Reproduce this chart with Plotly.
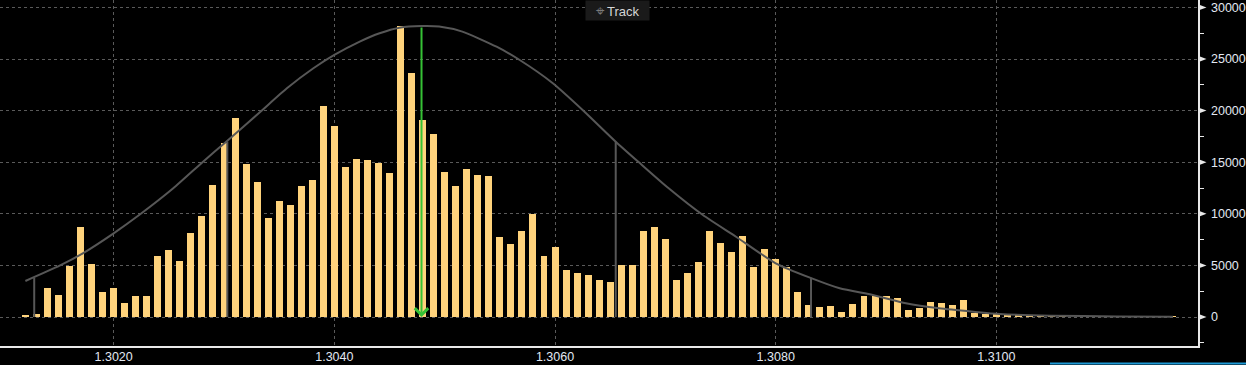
import plotly.graph_objects as go

# ---------------- data ----------------
bin_start = 1.3012
bin_step = 0.0001
counts = [
    150, 300, 2810, 2130, 4980, 8720, 5140, 2420, 2810, 1360,      # 1.3012-1.3021
    2070, 2070, 5910, 6490, 5430, 8140, 9790, 12790, 16830, 19280,  # 1.3022-1.3031
    14830, 13080, 9590, 11240, 10850, 12690, 13280, 20450, 18510, 14540,  # 1.3032-1.3041
    15310, 15210, 14920, 13950, 28200, 23640, 19090, 17730, 14050, 12690,  # 1.3042-1.3051
    14340, 13760, 13660, 7750, 7070, 8330, 9980, 5910, 6780, 4550,  # 1.3052-1.3061
    4260, 4070, 3590, 3390, 5040, 5040, 8330, 8720, 7560, 3590,     # 1.3062-1.3071
    4260, 5330, 8330, 7170, 6300, 7850, 4850, 6590, 5620, 4850,     # 1.3072-1.3081
    2420, 1160, 970, 1070, 490, 1260, 2040, 2040, 2040, 1840,       # 1.3082-1.3091
    680, 870, 1450, 1360, 1160, 1650, 420, 320, 260, 160,           # 1.3092-1.3101
    160, 130, 100, 100, 60, 40, 0, 0, 0, 0,                         # 1.3102-1.3111
    0, 0, 0, 0, 60,                                                 # 1.3112-1.3116
]
bin_centers = [round(bin_start + i * bin_step, 4) for i in range(len(counts))]

# fitted normal curve
curve_x = [1.30120, 1.30151, 1.30172, 1.30200, 1.30224, 1.30254, 1.30280, 1.30302,
           1.30333, 1.30357, 1.30381, 1.30400, 1.30423, 1.30441, 1.30459, 1.30479,
           1.30495, 1.30516, 1.30547, 1.30568, 1.30598, 1.30625, 1.30655, 1.30676,
           1.30703, 1.30734, 1.30764, 1.30800, 1.30831, 1.30858, 1.30888, 1.30918,
           1.30948, 1.30979, 1.31003, 1.31049, 1.31109, 1.31160]
curve_y = [3490, 4970, 6170, 8110, 9950, 12470, 14950, 16990,
           19890, 22160, 24100, 25390, 26680, 27490, 28030, 28200,
           28150, 27650, 26190, 24900, 22650, 20060, 16990, 14990,
           12470, 9880, 7780, 5200, 3810, 2780, 2130, 1330,
           840, 510, 290, 130, 60, 30]

# +-1 / +-2 sigma markers
sigma_x = [1.30128, 1.30303, 1.30655, 1.30832]
sigma_top = [3780, 16990, 16990, 3810]

# mean (green arrow)
mean_x = 1.30479
mean_top = 28200

y_tick_vals = [0, 5000, 10000, 15000, 20000, 25000, 30000]
y_tick_text = ["0", "5000", "10000", "15000", "20000", "25000", "30000"]
x_tick_vals = [1.302, 1.304, 1.306, 1.308, 1.310]
x_tick_text = ["1.3020", "1.3040", "1.3060", "1.3080", "1.3100"]

# ---------------- styling ----------------
W, H = 1246, 365
M_L, M_R, M_T, M_B = 0, 48, 0, 19
X_RANGE = [1.300970, 1.311827]
Y_RANGE = [-2810, 30717]
FONT = "Liberation Sans, Arial, sans-serif"
BAR_COLOR = "#FFD37C"
CURVE_COLOR = "#575757"
GRID_COLOR = "#5a5a5a"
AXIS_COLOR = "#e8e8e8"
LABEL_COLOR = "#e2e8f2"

fig = go.Figure()

fig.add_trace(go.Bar(
    x=bin_centers, y=counts, width=bin_step * 0.63,
    marker=dict(color=BAR_COLOR, line=dict(width=0)),
    hoverinfo="skip", showlegend=False,
))

# sigma vertical lines
sx, sy = [], []
for xv, tv in zip(sigma_x, sigma_top):
    sx += [xv, xv, None]
    sy += [0, tv, None]
fig.add_trace(go.Scatter(
    x=sx, y=sy, mode="lines", line=dict(color=CURVE_COLOR, width=2),
    hoverinfo="skip", showlegend=False,
))

fig.add_trace(go.Scatter(
    x=curve_x, y=curve_y, mode="lines",
    line=dict(color=CURVE_COLOR, width=2, shape="spline", smoothing=0.6),
    hoverinfo="skip", showlegend=False,
))

# green mean arrow
fig.add_annotation(
    x=mean_x, y=0, ax=mean_x, ay=mean_top, xref="x", yref="y", axref="x", ayref="y",
    text="", showarrow=True, arrowhead=4, arrowsize=1.3, arrowwidth=2,
    arrowcolor="#35c235", standoff=0,
)

# triangles at major y ticks
px_per_unit_y = (H - M_T - M_B) / (Y_RANGE[1] - Y_RANGE[0])
plot_w = W - M_L - M_R
h = 3.2 / px_per_unit_y
w = 8.5 / plot_w
shapes = []
for tv in y_tick_vals:
    shapes.append(dict(
        type="path", xref="paper", yref="y",
        path=f"M 1,{tv + h} L {1 + w},{tv} L 1,{tv - h} Z",
        fillcolor=AXIS_COLOR, line=dict(width=0),
    ))
# blue strip at bottom right
shapes.append(dict(
    type="rect", xref="paper", yref="paper",
    x0=1050 / plot_w, x1=W / plot_w, y0=-(18.5 / (H - M_T - M_B)), y1=-(16.5 / (H - M_T - M_B)),
    fillcolor="#1e9ad6", line=dict(width=0),
))

fig.add_annotation(
    xref="paper", yref="paper", x=617.5 / plot_w, y=1, xanchor="center", yanchor="top",
    text='<span style="color:#7a7a7a;font-size:15px">⌖</span> Track', showarrow=False,
    font=dict(family=FONT, size=13, color="#d6d6d6"),
    bgcolor="#1a1a1a", borderpad=2, width=59, height=15,
)

fig.update_layout(
    width=W, height=H, autosize=False,
    margin=dict(l=M_L, r=M_R, t=M_T, b=M_B, pad=0),
    paper_bgcolor="#000000", plot_bgcolor="#000000",
    bargap=0, showlegend=False, hovermode=False,
    shapes=shapes,
    font=dict(family=FONT, size=12.5, color=LABEL_COLOR),
    xaxis=dict(
        range=X_RANGE, tickvals=x_tick_vals, ticktext=x_tick_text, automargin=False,
        showgrid=True, gridcolor=GRID_COLOR, griddash="dot", gridwidth=1,
        zeroline=False, showline=True, linecolor=AXIS_COLOR, linewidth=1.5,
        ticks="", ticklabelstandoff=-2,
        tickfont=dict(family=FONT, size=12.5, color=LABEL_COLOR),
    ),
    yaxis=dict(
        range=Y_RANGE, side="right", tickvals=y_tick_vals, ticktext=y_tick_text, automargin=False,
        showgrid=True, gridcolor=GRID_COLOR, griddash="dot", gridwidth=1,
        zeroline=False, showline=True, linecolor=AXIS_COLOR, linewidth=1.5,
        ticks="outside", ticklen=9, tickcolor="rgba(0,0,0,0)",
        tickfont=dict(family=FONT, size=12.5, color=LABEL_COLOR),
        minor=dict(dtick=2500, tick0=0, ticks="outside", ticklen=4,
                   tickcolor=AXIS_COLOR, showgrid=False),
    ),
)

fig.write_html("out.html", config={"displayModeBar": False, "staticPlot": True})
